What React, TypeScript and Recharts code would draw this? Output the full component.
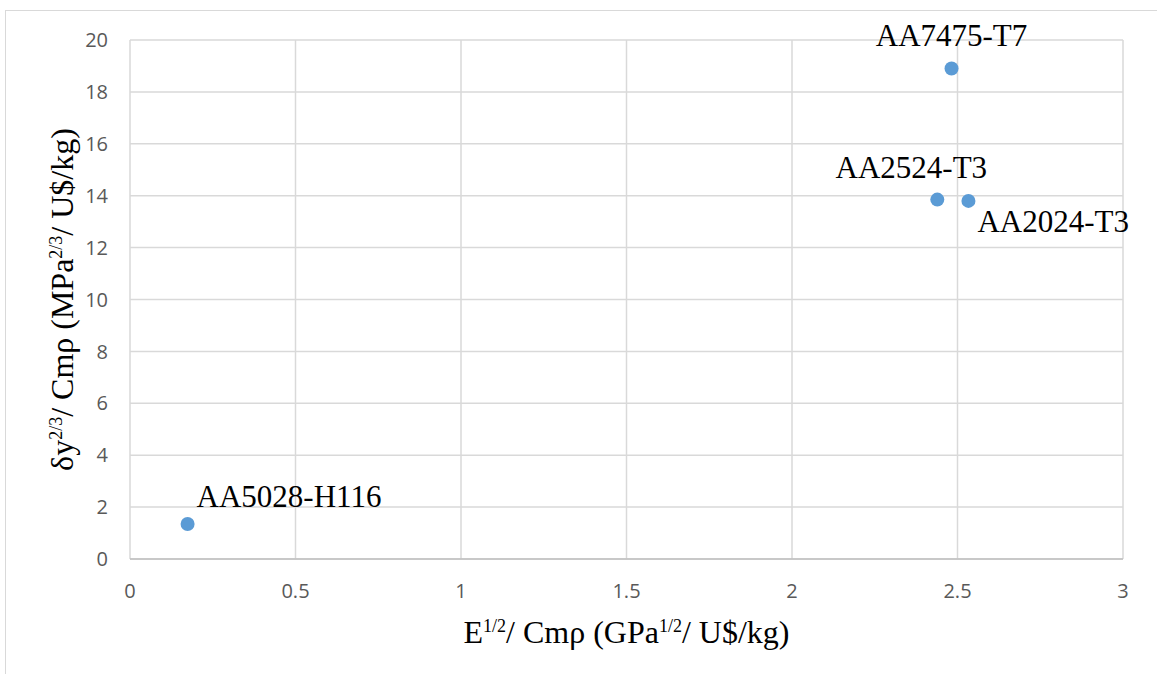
import React from "react";
import {
  ScatterChart,
  Scatter,
  XAxis,
  YAxis,
  CartesianGrid,
  LabelList,
} from "recharts";

const alloys = ["AA5028-H116", "AA7475-T7", "AA2524-T3", "AA2024-T3"];
const stiffnessIndex = [0.174, 2.482, 2.439, 2.533];
const strengthIndex = [1.35, 18.9, 13.85, 13.8];
const xTicks = [0, 0.5, 1, 1.5, 2, 2.5, 3];
const yTicks = [0, 2, 4, 6, 8, 10, 12, 14, 16, 18, 20];

const points = alloys.map((name, i) => ({
  name,
  x: stiffnessIndex[i],
  y: strengthIndex[i],
}));

const labelPlacement: Record<string, { dx: number; dy: number; anchor: "start" | "middle" | "end" }> = {
  "AA5028-H116": { dx: 9, dy: -17, anchor: "start" },
  "AA7475-T7": { dx: 0, dy: -23, anchor: "middle" },
  "AA2524-T3": { dx: -26, dy: -22, anchor: "middle" },
  "AA2024-T3": { dx: 9, dy: 31, anchor: "start" },
};

const serif = "'Liberation Serif', 'Times New Roman', serif";
const sans = "'Open Sans', sans-serif";
const tickStyle = { fill: "#595959", fontSize: 20, fontFamily: sans };

const PointLabel = (props: any) => {
  const { x, y, width, height, value } = props;
  const p = labelPlacement[value] || { dx: 0, dy: 0, anchor: "middle" };
  const cx = x + (width || 0) / 2;
  const cy = y + (height || 0) / 2;
  return (
    <text
      x={cx + p.dx}
      y={cy + p.dy}
      textAnchor={p.anchor}
      fontFamily={serif}
      fontSize={31}
      fill="#000"
    >
      {value}
    </text>
  );
};

const XTitle = (props: any) => {
  const vb = props.viewBox;
  const cx = vb.x + vb.width / 2;
  return (
    <text x={cx} y={643} textAnchor="middle" fontFamily={serif} fontSize={32} fill="#000">
      <tspan>E</tspan>
      <tspan fontSize={18} dy={-11}>1/2</tspan>
      <tspan dy={11}>/ Cmρ (GPa</tspan>
      <tspan fontSize={18} dy={-11}>1/2</tspan>
      <tspan dy={11}>/ U$/kg)</tspan>
    </text>
  );
};

const YTitle = (props: any) => {
  const vb = props.viewBox;
  const cy = vb.y + vb.height / 2;
  const bx = 73;
  return (
    <text
      x={bx}
      y={cy}
      transform={`rotate(-90, ${bx}, ${cy})`}
      textAnchor="middle"
      fontFamily={serif}
      fontSize={32}
      fill="#000"
    >
      <tspan>δy</tspan>
      <tspan fontSize={18} dy={-11}>2/3</tspan>
      <tspan dy={11}>/ Cmρ (MPa</tspan>
      <tspan fontSize={18} dy={-11}>2/3</tspan>
      <tspan dy={11}>/ U$/kg)</tspan>
    </text>
  );
};

export default function App() {
  return (
    <div
      style={{
        position: "absolute",
        left: 0,
        top: 0,
        width: 1157,
        height: 674,
        background: "#fff",
        overflow: "hidden",
      }}
    >
      <div
        style={{
          position: "absolute",
          left: 5,
          top: 10,
          width: 1300,
          height: 800,
          borderLeft: "1.5px solid #d9d9d9",
          borderTop: "1.5px solid #d9d9d9",
        }}
      />
      <div style={{ position: "absolute", left: 0, top: 0 }}>
        <ScatterChart
          width={1157}
          height={674}
          margin={{ top: 40, right: 34, bottom: 55, left: 50 }}
        >
          <CartesianGrid stroke="#d9d9d9" strokeWidth={1.5} />
          <XAxis
            type="number"
            dataKey="x"
            domain={[0, 3]}
            ticks={xTicks}
            interval={0}
            height={60}
            tickLine={false}
            tickSize={0}
            tickMargin={25}
            axisLine={{ stroke: "#bfbfbf", strokeWidth: 1.5 }}
            tick={tickStyle}
            label={{ content: <XTitle /> }}
          />
          <YAxis
            type="number"
            dataKey="y"
            domain={[0, 20]}
            ticks={yTicks}
            interval={0}
            width={80}
            tickLine={false}
            tickSize={0}
            tickMargin={22}
            axisLine={false}
            tick={tickStyle}
            label={{ content: <YTitle /> }}
          />
          <Scatter
            data={points}
            fill="#5b9bd5"
            isAnimationActive={false}
            shape={(p: any) => <circle cx={p.cx} cy={p.cy} r={7} fill="#5b9bd5" />}
          >
            <LabelList dataKey="name" content={<PointLabel />} />
          </Scatter>
        </ScatterChart>
      </div>
    </div>
  );
}
